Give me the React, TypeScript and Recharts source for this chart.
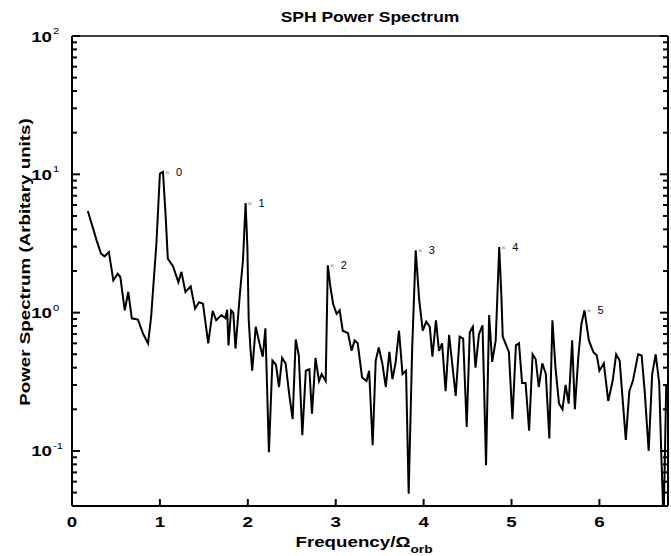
import { LineChart, Line, XAxis, YAxis, ReferenceDot, ReferenceLine } from "recharts";

// frequency in units of the orbital frequency
const freq = [
  0.18, 0.24, 0.28, 0.33, 0.37, 0.42, 0.47, 0.52, 0.55, 0.6, 0.64, 0.68, 0.75, 0.81, 0.865, 0.9,
  0.96, 1.0, 1.035, 1.066, 1.09, 1.15, 1.21, 1.245, 1.29, 1.35, 1.4, 1.445, 1.49, 1.55, 1.6,
  1.64, 1.7, 1.745, 1.765, 1.78, 1.81, 1.835, 1.86, 1.91, 1.945, 1.975, 1.995, 2.01, 2.03, 2.05,
  2.09, 2.13, 2.17, 2.2, 2.24, 2.28, 2.32, 2.355, 2.39, 2.43, 2.47, 2.51, 2.545, 2.58, 2.62,
  2.66, 2.7, 2.73, 2.77, 2.81, 2.84, 2.886, 2.91, 2.94, 2.97, 3.01, 3.045, 3.08, 3.14, 3.18,
  3.215, 3.25, 3.3, 3.35, 3.38, 3.42, 3.455, 3.49, 3.53, 3.57, 3.61, 3.645, 3.68, 3.72, 3.76,
  3.8, 3.83, 3.87, 3.91, 3.95, 3.99, 4.03, 4.07, 4.1, 4.14, 4.175, 4.21, 4.25, 4.29, 4.33,
  4.365, 4.41, 4.45, 4.49, 4.525, 4.56, 4.59, 4.63, 4.67, 4.71, 4.745, 4.78, 4.82, 4.86, 4.885,
  4.9, 4.94, 4.97, 5.01, 5.05, 5.085, 5.12, 5.16, 5.2, 5.24, 5.275, 5.31, 5.35, 5.39, 5.43,
  5.465, 5.5, 5.54, 5.58, 5.615, 5.65, 5.69, 5.72, 5.76, 5.795, 5.83, 5.88, 5.93, 5.97, 6.0,
  6.05, 6.1, 6.15, 6.19, 6.23, 6.3, 6.34, 6.38, 6.44, 6.48, 6.515, 6.56, 6.6, 6.64, 6.68,
  6.705, 6.73, 6.76,
];

const power = [
  5.43, 4.05, 3.33, 2.67, 2.55, 2.74, 1.71, 1.91, 1.81, 1.04, 1.41, 0.91, 0.89, 0.7, 0.6, 0.93,
  3.15, 10.1, 10.4, 4.9, 2.46, 2.16, 1.66, 1.97, 1.41, 1.55, 1.07, 1.19, 1.16, 0.6, 1.03,
  0.88, 0.96, 0.91, 1.05, 0.58, 1.04, 1.0, 0.55, 1.37, 2.4, 6.2, 3.0, 0.9, 0.55, 0.38,
  0.79, 0.61, 0.48, 0.77, 0.098, 0.45, 0.42, 0.29, 0.47, 0.43, 0.26, 0.17, 0.64, 0.49, 0.13,
  0.38, 0.39, 0.186, 0.47, 0.32, 0.36, 0.32, 2.2, 1.53, 1.16, 0.98, 1.04, 0.74, 0.71, 0.53,
  0.63, 0.6, 0.34, 0.32, 0.38, 0.11, 0.45, 0.56, 0.43, 0.29, 0.52, 0.33, 0.43, 0.74, 0.36,
  0.38, 0.049, 0.56, 2.82, 1.23, 0.74, 0.86, 0.79, 0.48, 0.88, 0.53, 0.6, 0.27, 0.69, 0.4,
  0.25, 0.67, 0.65, 0.149, 0.72, 0.79, 0.4, 0.7, 0.81, 0.079, 0.96, 0.44, 0.63, 2.98, 1.3,
  0.67, 0.58, 0.52, 0.17, 0.58, 0.6, 0.31, 0.31, 0.14, 0.5, 0.46, 0.29, 0.43, 0.36, 0.123,
  0.88, 0.4, 0.22, 0.2, 0.3, 0.22, 0.63, 0.2, 0.48, 0.83, 1.04, 0.63, 0.52, 0.49, 0.38,
  0.43, 0.23, 0.32, 0.5, 0.45, 0.12, 0.27, 0.32, 0.5, 0.49, 0.27, 0.1, 0.36, 0.5, 0.31,
  0.09, 0.03, 0.3,
];

// marked harmonics
const peakFreq = [1.035, 1.975, 2.91, 3.91, 4.86, 5.83];
const peakPower = [10.4, 6.2, 2.2, 2.82, 2.98, 1.04];
const peakLabels = ["0", "1", "2", "3", "4", "5"];

const xMax = 6.78;
const xTicks = [0, 1, 2, 3, 4, 5, 6];
const yMajor = [0.1, 1, 10, 100];
const yTicks = [
  0.05, 0.06, 0.07, 0.08, 0.09, 0.1, 0.2, 0.3, 0.4, 0.5, 0.6, 0.7, 0.8, 0.9, 1,
  2, 3, 4, 5, 6, 7, 8, 9, 10, 20, 30, 40, 50, 60, 70, 80, 90, 100,
];

const FONT = '"Liberation Sans", Arial, Helvetica, sans-serif';
const WIDE = 1.25;
const TICK = { stroke: "#000", strokeWidth: 2 };

const data = freq.map((f, i) => ({ f, p: power[i] }));

function BottomTick({ x, payload }: any) {
  return (
    <text
      transform={`translate(${x},527) scale(${WIDE},1)`}
      textAnchor="middle"
      fontSize={15}
      fontWeight="bold"
      fontFamily={FONT}
      fill="#000"
    >
      {payload.value}
    </text>
  );
}

function LeftTick({ x, y, payload }: any) {
  const v = payload.value;
  const major = yMajor.includes(v);
  const exp = Math.round(Math.log10(v));
  return (
    <g>
      <line x1={x} x2={x + (major ? 8 : 5)} y1={y} y2={y} stroke="#000" strokeWidth={2} />
      {major && (
        <text
          transform={`translate(52,${y + 5.5}) scale(${WIDE},1)`}
          textAnchor="end"
          fontSize={15}
          fontWeight="bold"
          fontFamily={FONT}
          fill="#000"
        >
          10
        </text>
      )}
      {major && (
        <text
          transform={`translate(53,${y - 2}) scale(${WIDE},1)`}
          fontSize={9}
          fontFamily={FONT}
          fill="#000"
        >
          {exp}
        </text>
      )}
    </g>
  );
}

function RightTick({ x, y, payload }: any) {
  const major = yMajor.includes(payload.value);
  return (
    <line x1={x} x2={x - (major ? 8 : 5)} y1={y} y2={y} stroke="#000" strokeWidth={2} />
  );
}

function PeakMark({ cx, cy, label }: any) {
  return (
    <g>
      <text x={cx + 2} y={cy + 3} fontSize={8} fill="#888" fontFamily={FONT}>
        ×
      </text>
      <text x={cx + 13} y={cy + 4} fontSize={11} fill="#000" fontFamily={FONT}>
        {label}
      </text>
    </g>
  );
}

export default function App() {
  return (
    <div
      style={{
        position: "absolute",
        left: 0,
        top: 0,
        width: 671,
        height: 556,
        background: "#fff",
      }}
    >
      <svg
        width={671}
        height={556}
        style={{ position: "absolute", left: 0, top: 0 }}
        fontFamily={FONT}
        fontWeight="bold"
      >
        <text
          transform={`translate(370,22) scale(${WIDE},1)`}
          textAnchor="middle"
          fontSize={14}
        >
          SPH Power Spectrum
        </text>
        <text
          transform={`translate(364,547) scale(${WIDE},1)`}
          textAnchor="middle"
          fontSize={15}
        >
          Frequency/Ω
          <tspan fontSize={11} dy={6}>
            orb
          </tspan>
        </text>
        <text
          transform={`translate(30,262) rotate(-90) scale(${WIDE},1)`}
          textAnchor="middle"
          fontSize={15}
        >
          Power Spectrum (Arbitary units)
        </text>
      </svg>
      <div style={{ position: "absolute", left: 0, top: 0 }}>
        <LineChart
          width={671}
          height={556}
          data={data}
          margin={{ top: 0, right: -27, bottom: 0, left: 0 }}
        >
          <XAxis
            dataKey="f"
            type="number"
            domain={[0, xMax]}
            allowDataOverflow
            ticks={xTicks}
            interval={0}
            height={50}
            tickSize={-7}
            tickLine={TICK}
            tick={<BottomTick />}
            axisLine={{ stroke: "#000", strokeWidth: 2 }}
          />
          <XAxis
            xAxisId="top"
            dataKey="f"
            orientation="top"
            type="number"
            domain={[0, xMax]}
            allowDataOverflow
            ticks={xTicks}
            interval={0}
            height={36}
            tickSize={-7}
            tickLine={TICK}
            tick={false}
            axisLine={{ stroke: "#000", strokeWidth: 1.5 }}
          />
          <YAxis
            scale="log"
            type="number"
            domain={[0.04, 100]}
            allowDataOverflow
            ticks={yTicks}
            interval={0}
            width={72}
            tickSize={0}
            tickMargin={0}
            tickLine={false}
            tick={<LeftTick />}
            axisLine={{ stroke: "#000", strokeWidth: 2 }}
          />
          <YAxis
            yAxisId="right"
            orientation="right"
            scale="log"
            type="number"
            domain={[0.04, 100]}
            allowDataOverflow
            ticks={yTicks}
            interval={0}
            width={30}
            tickSize={0}
            tickMargin={0}
            tickLine={false}
            tick={<RightTick />}
            axisLine={{ stroke: "#000", strokeWidth: 2 }}
          />
          {/* invisible copy so the top and right frame axes get their scales */}
          <Line
            xAxisId="top"
            yAxisId="right"
            type="linear"
            dataKey="p"
            stroke="none"
            dot={false}
            activeDot={false}
            isAnimationActive={false}
          />
          <Line
            type="linear"
            dataKey="p"
            stroke="#000"
            strokeWidth={2}
            dot={false}
            isAnimationActive={false}
          />
          {/* right edge of the box, in case the right axis line is dropped */}
          <ReferenceLine x={xMax} stroke="#000" strokeWidth={2} ifOverflow="visible" />
          {peakFreq.map((f, i) => (
            <ReferenceDot
              key={peakLabels[i]}
              x={f}
              y={peakPower[i]}
              r={0}
              ifOverflow="visible"
              shape={(p: any) => <PeakMark cx={p.cx} cy={p.cy} label={peakLabels[i]} />}
            />
          ))}
        </LineChart>
      </div>
    </div>
  );
}
